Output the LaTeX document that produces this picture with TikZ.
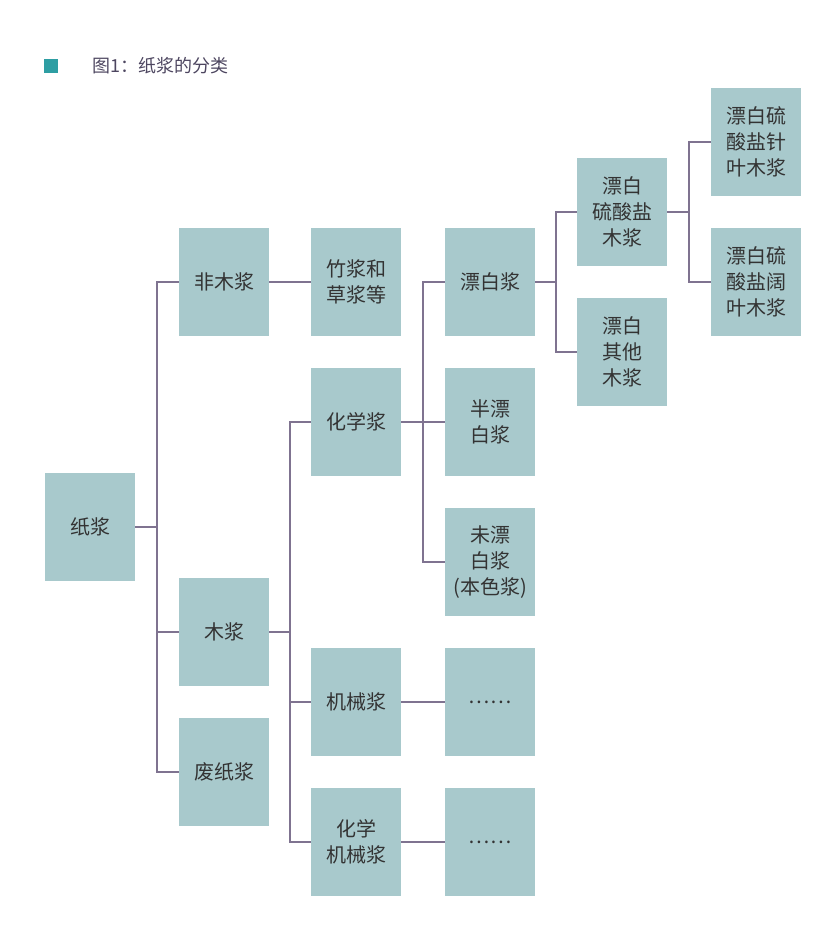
\documentclass[tikz,border=0pt]{standalone}
\usepackage{fontspec}
\setmainfont{Noto Sans CJK SC}
\usepackage{xcolor}
\usepackage{tikz}
\usetikzlibrary{positioning,calc}
\definecolor{boxfill}{HTML}{A8C9CC}
\definecolor{linkgray}{HTML}{7F7390}
\definecolor{textgray}{HTML}{333333}
\definecolor{titlegray}{HTML}{4D4660}
\definecolor{markteal}{HTML}{2E9EA3}
\tikzset{%
  pulp box/.style={%
    fill=boxfill,
    minimum width=67.5pt,
    minimum height=81pt,
    inner sep=2pt,
    align=center,
    text=textgray,
    font=\fontsize{15}{19.5}\selectfont
  }
}
\tikzset{%
  pulp link/.style={%
    draw=linkgray,
    line width=0.9pt
  }
}

\begin{document}
\begin{tikzpicture}[x=0.75pt,y=-0.75pt]
  \useasboundingbox (0,0) rectangle (832,944);
  \node [fill=markteal, minimum size=10.5pt, inner sep=0pt] (mark) at (51,66) {};
  \node [anchor=west, text=titlegray, font=\fontsize{13.5}{16}\selectfont] (title) at (88,66) {图1：纸浆的分类};
  \node [pulp box] (pulp) at (90,527) {纸浆};
  \node [pulp box] (nonwood) at (224,282) {非木浆};
  \node [pulp box] (wood) at (224,632) {木浆};
  \node [pulp box] (waste) at (224,772) {废纸浆};
  \node [pulp box] (bamboo) at (356,282) {竹浆和\\草浆等};
  \node [pulp box] (chem) at (356,422) {化学浆};
  \node [pulp box] (mech) at (356,702) {机械浆};
  \node [pulp box] (chemmech) at (356,842) {化学\\机械浆};
  \node [pulp box] (bleached) at (490,282) {漂白浆};
  \node [pulp box] (semi) at (490,422) {半漂\\白浆};
  \node [pulp box] (unbl) at (490,562) {未漂\\白浆\\(本色浆)};
  \node [pulp box] (mechmore) at (490,702) {……};
  \node [pulp box] (cmmore) at (490,842) {……};
  \node [pulp box] (kraft) at (622,212) {漂白\\硫酸盐\\木浆};
  \node [pulp box] (other) at (622,352) {漂白\\其他\\木浆};
  \node [pulp box] (soft) at (756,142) {漂白硫\\酸盐针\\叶木浆};
  \node [pulp box] (hard) at (756,282) {漂白硫\\酸盐阔\\叶木浆};
  \coordinate (pulpbus) at (157,527);
  \coordinate (woodbus) at (290,632);
  \coordinate (chembus) at (423,422);
  \coordinate (bleachbus) at (556,282);
  \coordinate (kraftbus) at (689,212);
  % first level
  \draw [pulp link] (pulp.east) -- (pulpbus);
  \draw [pulp link] (nonwood.west) -| (pulpbus);
  \draw [pulp link] (waste.west) -| (pulpbus);
  \draw [pulp link] (wood.west) -- (pulpbus |- wood.west);
  \draw [pulp link] (nonwood.east) -- (bamboo.west);
  % wood pulp
  \draw [pulp link] (wood.east) -- (woodbus);
  \draw [pulp link] (chem.west) -| (woodbus);
  \draw [pulp link] (chemmech.west) -| (woodbus);
  \draw [pulp link] (mech.west) -- (woodbus |- mech.west);
  \draw [pulp link] (mech.east) -- (mechmore.west);
  \draw [pulp link] (chemmech.east) -- (cmmore.west);
  % chemical pulp
  \draw [pulp link] (chem.east) -- (semi.west);
  \draw [pulp link] (bleached.west) -| (chembus);
  \draw [pulp link] (unbl.west) -| (chembus);
  % bleached pulp
  \draw [pulp link] (bleached.east) -- (bleachbus);
  \draw [pulp link] (kraft.west) -| (bleachbus);
  \draw [pulp link] (other.west) -| (bleachbus);
  \draw [pulp link] (kraft.east) -- (kraftbus);
  \draw [pulp link] (soft.west) -| (kraftbus);
  \draw [pulp link] (hard.west) -| (kraftbus);
\end{tikzpicture}
\end{document}
